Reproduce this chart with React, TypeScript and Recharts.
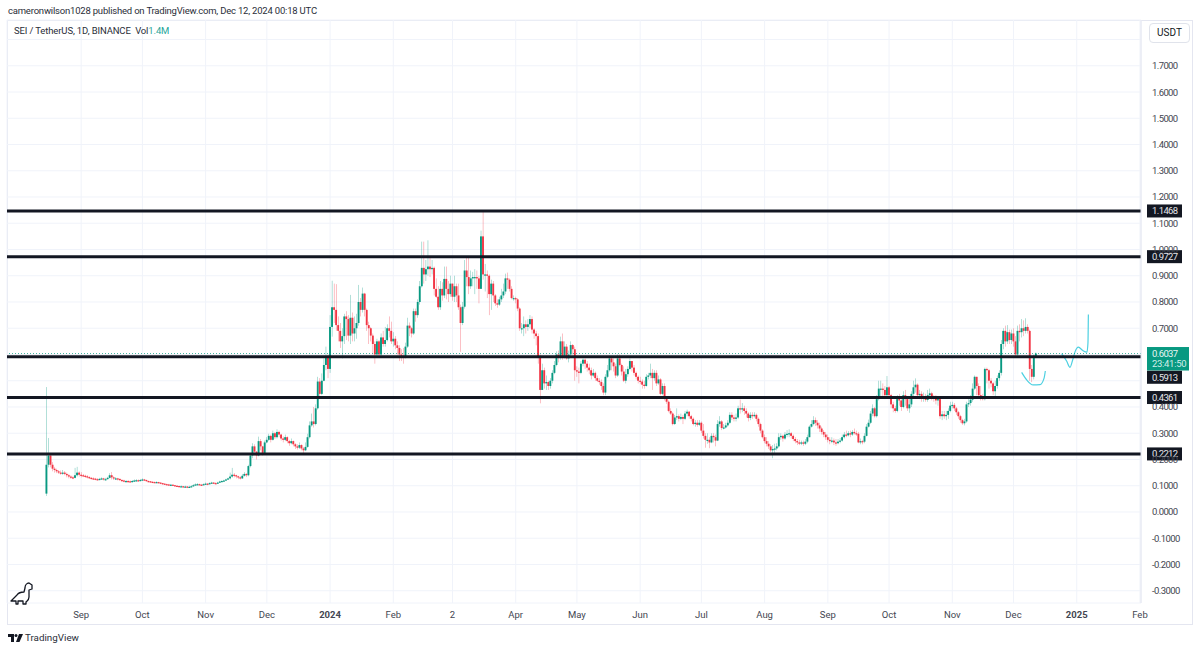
import React from "react";
import {
  Bar,
  CartesianGrid,
  ComposedChart,
  Line,
  ReferenceLine,
  XAxis,
  YAxis
} from "recharts";

// day index 0 = Aug 15 2023, one entry per daily candle
const firstOpen = 0.07;

const closes = [
  // Aug 2023
  .180,.215,.180,.165,.160,.155,.150,.148,.150,.145,.140,.135,.132,.130,.140,.150,.142,
  // Sep
  .140,.138,.136,.133,.130,.128,.127,.125,.124,.126,.128,.124,.125,.130,.140,.132,.128,.128,.126,.122,.120,.118,.118,.117,.116,.118,.120,.121,.120,.122,
  // Oct
  .124,.122,.118,.117,.115,.114,.113,.114,.112,.110,.108,.106,.105,.103,.104,.102,.100,.099,.097,.098,.096,.097,.094,.096,.098,.102,.105,.106,.104,.103,.106,
  // Nov
  .108,.106,.110,.112,.110,.109,.112,.116,.118,.120,.124,.128,.135,.142,.140,.136,.132,.128,.138,.145,.140,.175,.215,.250,.230,.215,.270,.250,.225,.265,
  // Dec
  .275,.290,.275,.300,.285,.305,.295,.280,.275,.285,.270,.262,.270,.258,.250,.245,.255,.242,.235,.248,.285,.330,.345,.335,.395,.497,.450,.500,.560,.590,.545,
  // Jan 2024
  .705,.780,.770,.712,.690,.650,.670,.745,.735,.672,.740,.680,.700,.720,.800,.770,.832,.770,.712,.700,.672,.640,.600,.650,.600,.665,.640,.655,.700,.690,.650,
  // Feb
  .660,.635,.625,.600,.595,.590,.630,.710,.700,.680,.765,.750,.800,.860,.930,.905,.925,.935,.925,.930,.850,.820,.780,.850,.825,.888,.850,.830,.870,
  // Mar
  .820,.860,.825,.780,.720,.782,.920,.895,.860,.890,.895,.895,.890,.850,1.05,.905,.905,.900,.830,.870,.825,.795,.790,.810,.825,.840,.890,.885,.850,.815,.815,
  // Apr
  .810,.775,.700,.700,.715,.705,.715,.735,.695,.680,.670,.590,.465,.540,.490,.495,.480,.500,.530,.560,.600,.590,.650,.595,.630,.585,.600,.636,.620,.540,
  // May
  .535,.530,.565,.580,.565,.550,.540,.520,.530,.510,.500,.495,.480,.455,.515,.540,.585,.570,.555,.520,.585,.560,.535,.500,.525,.545,.575,.550,.530,.515,.500,
  // Jun
  .497,.485,.480,.515,.520,.530,.510,.530,.490,.505,.450,.480,.435,.420,.385,.375,.335,.360,.365,.355,.362,.355,.375,.382,.365,.355,.335,.340,.332,.340,
  // Jul
  .310,.290,.275,.275,.265,.290,.285,.272,.335,.345,.320,.322,.330,.340,.370,.360,.355,.360,.395,.392,.395,.385,.375,.358,.370,.365,.370,.355,.335,.310,.285,
  // Aug
  .270,.260,.250,.235,.240,.242,.250,.285,.290,.280,.295,.298,.300,.290,.278,.270,.265,.262,.265,.260,.268,.285,.325,.335,.350,.340,.330,.318,.305,.295,.285,
  // Sep
  .275,.270,.272,.265,.262,.268,.272,.285,.295,.292,.300,.295,.305,.300,.298,.265,.270,.268,.290,.325,.340,.375,.395,.365,.430,.470,.470,.465,.445,.475,
  // Oct
  .445,.410,.395,.385,.430,.425,.400,.445,.430,.395,.410,.450,.475,.485,.445,.450,.432,.440,.427,.445,.452,.435,.432,.425,.430,.365,.372,.365,.370,.385,.405,
  // Nov
  .408,.395,.380,.365,.350,.338,.345,.410,.415,.428,.470,.515,.480,.445,.435,.430,.545,.540,.500,.490,.460,.480,.510,.530,.640,.690,.650,.685,.655,.680,
  // Dec
  .650,.600,.690,.685,.700,.690,.705,.690,.545,.515,.595,.6037
];

const highs = [
  .476,.282,.225,.190,.172,.165,.160,.158,.160,.156,.150,.145,.140,.138,.168,.172,.155,
  .152,.145,.142,.140,.136,.133,.132,.130,.129,.130,.132,.130,.130,.134,.148,.152,.136,.133,.130,.128,.125,.123,.122,.122,.120,.122,.124,.125,.124,.126,
  .128,.126,.123,.120,.118,.117,.116,.117,.115,.113,.111,.109,.108,.107,.107,.105,.103,.102,.100,.101,.099,.100,.099,.100,.102,.106,.109,.110,.108,.107,.109,
  .112,.110,.113,.115,.114,.113,.115,.119,.121,.123,.127,.131,.150,.168,.148,.142,.138,.136,.145,.152,.148,.180,.225,.262,.258,.232,.287,.278,.252,.272,
  .285,.298,.295,.310,.305,.315,.310,.298,.288,.295,.288,.275,.280,.272,.262,.258,.265,.258,.248,.265,.298,.345,.375,.400,.410,.515,.510,.528,.585,.630,.600,
  .750,.881,.870,.868,.745,.720,.700,.755,.765,.750,.827,.760,.745,.755,.865,.815,.855,.835,.775,.725,.705,.680,.650,.660,.655,.680,.690,.705,.715,.745,.725,
  .685,.670,.650,.635,.620,.625,.645,.740,.722,.705,.775,.775,.810,.880,1.03,1.03,.960,1.035,.975,.960,.935,.890,.860,.880,.875,.935,.935,.880,.900,
  .870,.900,.870,.870,.790,.800,.960,.975,.975,.920,.915,.925,.920,.900,1.072,1.146,.945,.920,.905,.885,.880,.830,.810,.820,.850,.870,.908,.912,.890,.860,.825,
  .820,.815,.780,.720,.745,.730,.735,.750,.745,.700,.690,.680,.600,.565,.550,.520,.500,.510,.540,.575,.612,.615,.668,.680,.650,.640,.615,.650,.640,.630,
  .555,.550,.575,.585,.585,.575,.565,.550,.545,.535,.520,.510,.505,.490,.525,.560,.595,.590,.585,.565,.600,.600,.565,.555,.545,.555,.585,.575,.560,.535,.520,
  .515,.505,.500,.525,.530,.565,.545,.540,.540,.520,.510,.490,.490,.440,.425,.395,.380,.370,.395,.372,.375,.370,.385,.390,.385,.370,.360,.350,.350,.350,
  .345,.335,.300,.300,.285,.300,.300,.295,.350,.365,.350,.335,.340,.350,.380,.380,.370,.375,.405,.428,.415,.405,.395,.380,.380,.380,.380,.375,.360,.340,.315,
  .295,.285,.270,.258,.255,.260,.262,.300,.300,.295,.305,.312,.315,.305,.295,.285,.278,.275,.272,.272,.278,.295,.330,.350,.365,.360,.350,.340,.325,.312,.305,
  .295,.285,.285,.280,.278,.278,.282,.295,.305,.310,.308,.310,.312,.318,.310,.305,.280,.275,.300,.335,.352,.385,.410,.400,.445,.500,.500,.490,.480,.518,
  .480,.450,.420,.405,.445,.450,.430,.460,.465,.440,.430,.460,.500,.509,.490,.465,.460,.455,.450,.465,.470,.458,.445,.445,.440,.435,.385,.385,.385,.395,.420,
  .420,.415,.400,.385,.370,.355,.355,.420,.430,.445,.490,.520,.515,.490,.480,.450,.550,.550,.545,.510,.495,.500,.520,.540,.655,.700,.710,.712,.695,.695,
  .700,.670,.710,.715,.735,.730,.738,.715,.695,.560,.600,.608
];

const lows = [
  .061,.170,.170,.155,.150,.148,.145,.142,.142,.140,.132,.128,.126,.125,.128,.135,.135,
  .132,.133,.130,.128,.126,.124,.122,.121,.120,.121,.123,.120,.120,.124,.128,.124,.122,.123,.120,.118,.115,.113,.113,.112,.112,.113,.115,.116,.116,.117,
  .118,.118,.115,.113,.111,.110,.110,.110,.108,.106,.104,.103,.102,.100,.100,.099,.097,.096,.094,.095,.093,.093,.091,.093,.095,.097,.101,.102,.101,.100,.102,
  .104,.102,.105,.108,.107,.106,.108,.111,.114,.116,.119,.122,.124,.131,.132,.128,.125,.124,.126,.135,.133,.136,.170,.205,.215,.200,.212,.235,.215,.222,
  .262,.270,.265,.272,.278,.280,.285,.272,.265,.270,.262,.252,.258,.250,.240,.238,.240,.235,.222,.232,.245,.280,.325,.322,.330,.390,.430,.445,.498,.540,.510,
  .530,.668,.720,.690,.650,.625,.585,.640,.655,.650,.640,.650,.650,.660,.710,.745,.760,.745,.690,.640,.650,.600,.565,.590,.590,.595,.630,.630,.650,.665,.640,
  .630,.620,.600,.575,.575,.565,.585,.625,.670,.665,.675,.725,.740,.790,.855,.870,.880,.900,.895,.905,.825,.815,.770,.770,.805,.815,.810,.800,.820,
  .805,.800,.800,.770,.610,.712,.775,.860,.830,.850,.860,.830,.850,.795,.860,.885,.840,.815,.750,.770,.800,.785,.778,.785,.800,.815,.830,.850,.840,.810,.805,
  .795,.765,.690,.680,.670,.680,.690,.700,.680,.660,.635,.565,.414,.480,.470,.465,.465,.470,.490,.525,.555,.570,.580,.580,.585,.580,.570,.590,.600,.500,
  .515,.490,.525,.555,.545,.535,.525,.505,.515,.500,.495,.485,.465,.445,.445,.510,.535,.540,.535,.510,.515,.555,.520,.495,.490,.515,.540,.535,.520,.505,.490,
  .487,.470,.470,.478,.505,.510,.465,.500,.480,.485,.445,.445,.425,.412,.380,.370,.330,.332,.350,.345,.350,.335,.350,.365,.355,.345,.330,.325,.325,.328,
  .300,.280,.245,.260,.243,.262,.265,.250,.270,.325,.312,.315,.318,.325,.335,.350,.345,.345,.355,.375,.380,.370,.360,.345,.350,.355,.360,.345,.325,.300,.280,
  .262,.250,.240,.228,.205,.225,.235,.245,.275,.268,.275,.285,.285,.280,.270,.262,.255,.255,.255,.252,.255,.262,.285,.322,.330,.328,.318,.305,.295,.285,.275,
  .265,.258,.262,.255,.252,.258,.262,.268,.280,.285,.288,.285,.290,.295,.290,.262,.258,.258,.262,.288,.322,.335,.365,.360,.360,.425,.440,.438,.430,.440,
  .430,.395,.380,.378,.380,.405,.385,.395,.405,.385,.378,.400,.440,.455,.435,.430,.420,.420,.420,.420,.430,.425,.420,.410,.405,.355,.350,.355,.350,.355,.380,
  .395,.385,.370,.355,.340,.332,.330,.340,.400,.405,.420,.465,.445,.440,.425,.425,.425,.490,.470,.475,.445,.440,.470,.500,.520,.620,.630,.640,.640,.640,
  .630,.590,.595,.650,.665,.670,.680,.680,.500,.495,.505,.590
];

// horizontal levels and the values printed on their tags
const levels = [1.1468, 0.9727, 0.5913, 0.4361, 0.2212];
const lastPrice = 0.6037;
const countdown = "23:41:50";

const priceTicks = [1.8, 1.7, 1.6, 1.5, 1.4, 1.3, 1.2, 1.1, 1.0, 0.9, 0.8, 0.7, 0.6, 0.5, 0.4, 0.3, 0.2, 0.1, 0, -0.1, -0.2, -0.3];
// these grid rows have their tick text covered in the reference
const coveredTicks = [1.8, 0.6, 0.5];
const priceDomain = [-0.3467, 1.8743];

const monthDays = [17, 47, 78, 108, 139, 170, 199, 230, 260, 291, 321, 352, 383, 413, 444, 474, 505, 536];
const monthLabels = ["Sep", "Oct", "Nov", "Dec", "2024", "Feb", "2", "Apr", "May", "Jun", "Jul", "Aug", "Sep", "Oct", "Nov", "Dec", "2025", "Feb"];
const dayDomain = [-19.36, 536.5];

// the two hand drawn cyan strokes
const cupDays = [478, 480.5, 483.6, 487, 489, 489.6];
const cupPrices = [0.532, 0.503, 0.484, 0.485, 0.51, 0.537];
const pathDays = [497.6, 500.1, 501.7, 503, 504.2, 505.8, 508, 510, 510.5, 510.7];
const pathPrices = [0.603, 0.574, 0.551, 0.579, 0.611, 0.628, 0.615, 0.609, 0.644, 0.752];

const UP = "#089981";
const DOWN = "#f23645";
const INK = "#131722";
const GRID = "#f0f3fa";
const CYAN = "#4dd0e1";
const FONT = "Roboto, 'Open Sans', sans-serif";

const candles = closes.map((close, i) => {
  const open = i === 0 ? firstOpen : closes[i - 1];
  return {
    day: i,
    wick: [lows[i], highs[i]],
    body: [Math.min(open, close), Math.max(open, close)],
    color: close >= open ? UP : DOWN
  };
});

const cupLine = cupDays.map((day, i) => ({ day, drawn: cupPrices[i] }));
const pathLine = pathDays.map((day, i) => ({ day, drawn: pathPrices[i] }));

function WickShape(props: any) {
  return (
    <rect
      x={props.x}
      y={props.y}
      width={props.width}
      height={props.height}
      fill={props.payload.color}
      fillOpacity={0.85}
    />
  );
}

function BodyShape(props: any) {
  return (
    <rect
      x={props.x}
      y={props.y}
      width={props.width}
      height={Math.max(props.height, 1.2)}
      fill={props.payload.color}
    />
  );
}

function PriceTag({ viewBox, text, shift = 0 }: any) {
  const x = viewBox.x + viewBox.width + 6;
  const y = viewBox.y + shift;
  return (
    <g>
      <rect x={x} y={y - 6.5} width={35} height={13} fill={INK} />
      <text x={x + 5} y={y + 3.5} fontSize={9.5} letterSpacing={-0.6} fontFamily={FONT} fill="#e6e6ea">
        {text}
      </text>
    </g>
  );
}

function LastTag({ viewBox }: any) {
  const x = viewBox.x + viewBox.width + 6;
  const y = viewBox.y;
  return (
    <g>
      <rect x={x} y={y - 6.5} width={42} height={23.5} fill={UP} />
      <text x={x + 5} y={y + 3.5} fontSize={9.5} letterSpacing={-0.6} fontFamily={FONT} fill="#e8f6f3">
        {lastPrice.toFixed(4)}
      </text>
      <text x={x + 5} y={y + 13.5} fontSize={9.5} letterSpacing={-0.3} fontFamily={FONT} fill="#d2eee9">
        {countdown}
      </text>
    </g>
  );
}

function Dino() {
  return (
    <svg width={26} height={24} style={{ position: "absolute", left: 8, top: 581 }}>
      <path
        d="M3 20 L9 14 C11 11 14 11 16 11 L17 7 C17 4 19 2 21 2 L24 4 L24 8 L21 9 L21 16 C21 19 19 20 18 21 L18 23 L15 23 L15 20 L10 20 L10 23 L8 23 L8 20 Z"
        fill="none"
        stroke={INK}
        strokeWidth={1.3}
        strokeLinejoin="round"
      />
    </svg>
  );
}

function Logo() {
  return (
    <svg width={15} height={8} style={{ position: "absolute", left: 8, top: 634 }}>
      <path d="M0 0 H6 V8 H3 V3 H0 Z" fill={INK} />
      <circle cx={8} cy={1.6} r={1.5} fill={INK} />
      <path d="M11 0 H15 L11.5 8 H8 Z" fill={INK} />
    </svg>
  );
}

export default function App() {
  return (
    <div style={{ position: "absolute", left: 0, top: 0, width: 1200, height: 651, background: "#fff", fontFamily: FONT, overflow: "hidden" }}>
      <div style={{ position: "absolute", left: 8, top: 5, fontSize: 9.5, letterSpacing: -0.2, color: "#2a2e39", whiteSpace: "nowrap" }}>
        cameronwilson1028 published on TradingView.com, Dec 12, 2024 00:18 UTC
      </div>

      {/* pane frame */}
      <div style={{ position: "absolute", left: 7, top: 20, width: 1186, height: 605, border: "1px solid #e4e6f0", boxSizing: "border-box" }} />

      <ComposedChart
        width={1200}
        height={651}
        data={candles}
        margin={{ top: 20, right: 7, bottom: 27, left: 7 }}
        style={{ position: "absolute", left: 0, top: 0 }}
      >
        <CartesianGrid stroke={GRID} strokeWidth={1} />
        <XAxis
          dataKey="day"
          type="number"
          scale="linear"
          domain={dayDomain}
          allowDataOverflow
          ticks={monthDays}
          interval={0}
          height={21}
          axisLine={false}
          tickLine={false}
          tick={(p: any) => {
            const label = monthLabels[monthDays.indexOf(p.payload.value)];
            return (
              <text
                x={p.x}
                y={p.y + 7}
                textAnchor="middle"
                fontSize={9.5}
                fontFamily={FONT}
                fontWeight={label === "2024" || label === "2025" ? 700 : 400}
                fill="#434651"
              >
                {label}
              </text>
            );
          }}
        />
        <XAxis xAxisId="body" dataKey="day" type="number" scale="linear" domain={dayDomain} allowDataOverflow hide />
        <YAxis
          orientation="right"
          type="number"
          domain={priceDomain}
          allowDataOverflow
          ticks={priceTicks}
          interval={0}
          width={52}
          axisLine={{ stroke: "#e4e6f0" }}
          tickLine={false}
          tickMargin={11}
          tickSize={0}
          tick={(p: any) =>
            coveredTicks.includes(p.payload.value) ? (
              <g />
            ) : (
              <text x={p.x} y={p.y + 3.5} fontSize={9.5} letterSpacing={-0.6} fontFamily={FONT} fill="#434651">
                {Number(p.payload.value).toFixed(4)}
              </text>
            )
          }
        />
        <Bar dataKey="wick" barSize={1.4} shape={WickShape} isAnimationActive={false} />
        <Bar dataKey="body" xAxisId="body" barSize={1.9} shape={BodyShape} isAnimationActive={false} />
        <Line
          data={cupLine}
          dataKey="drawn"
          type="monotone"
          stroke={CYAN}
          strokeWidth={1.2}
          dot={false}
          activeDot={false}
          isAnimationActive={false}
        />
        <Line
          data={pathLine}
          dataKey="drawn"
          type="monotone"
          stroke={CYAN}
          strokeWidth={1.2}
          dot={false}
          activeDot={false}
          isAnimationActive={false}
        />
        <ReferenceLine y={lastPrice} stroke={UP} strokeOpacity={0.75} strokeDasharray="1 2" label={(p: any) => <LastTag viewBox={p.viewBox} />} />
        {levels.map((level) => (
          <ReferenceLine
            key={level}
            y={level}
            stroke={INK}
            strokeWidth={3}
            label={(p: any) => (
              <PriceTag viewBox={p.viewBox} text={level.toFixed(4)} shift={level === 0.5913 ? 20.5 : 0} />
            )}
          />
        ))}
      </ComposedChart>

      <div style={{ position: "absolute", left: 14, top: 25, fontSize: 9.5, letterSpacing: -0.13, color: "#2a2e39", whiteSpace: "pre" }}>
        {"SEI / TetherUS, 1D, BINANCE  Vol"}
        <span style={{ color: "#26a69a" }}>1.4M</span>
      </div>

      <div
        style={{
          position: "absolute",
          left: 1149,
          top: 23,
          width: 41,
          height: 20,
          border: "1px solid #e0e3eb",
          borderRadius: 4,
          boxSizing: "border-box",
          background: "#fff",
          fontSize: 10,
          lineHeight: "18px",
          textAlign: "center",
          color: "#131722"
        }}
      >
        USDT
      </div>

      <Dino />
      <Logo />
      <div style={{ position: "absolute", left: 25, top: 632, fontSize: 9.8, color: "#2a2e39" }}>TradingView</div>
    </div>
  );
}
